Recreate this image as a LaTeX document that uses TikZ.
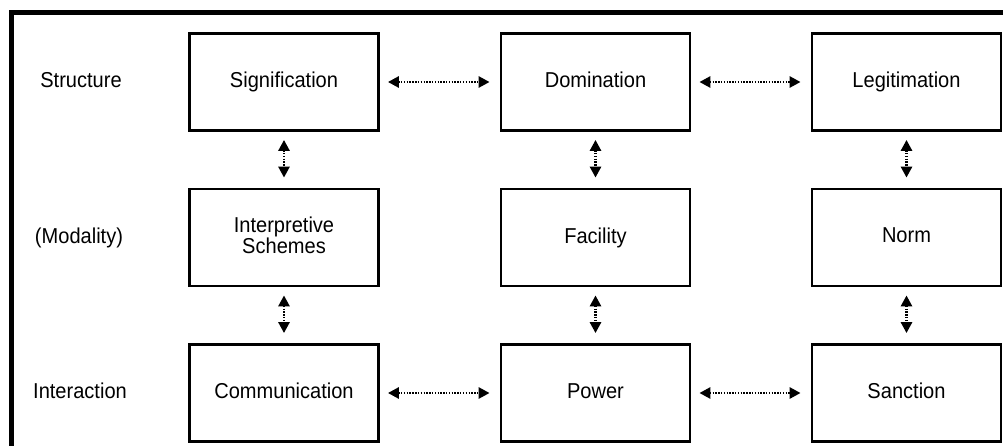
\documentclass[tikz,border=0pt]{standalone}
\usepackage{fontspec}
\setmainfont{Liberation Sans}[FakeStretch=0.93]
\usetikzlibrary{arrows.meta}

\newcommand{\boxfont}{\fontsize{18.4}{17.4}\selectfont}

\begin{document}
\begin{tikzpicture}[
    x=0.03cm, y=-0.03cm,
    box_style/.style={rectangle, draw, line width=2.1pt, minimum width=5.68cm, minimum height=2.92cm, inner sep=0pt, align=center, font=\boxfont, execute at begin node=\vphantom{Ag}},
    row_label_style/.style={font=\boxfont, execute at begin node=\vphantom{Ag}},
    link_style/.style={dash pattern=on 1.2pt off 1.2pt, line width=2.3pt, shorten <=2.4mm, shorten >=3mm, {Triangle[length=3.3mm,width=3.3mm]}-{Triangle[length=3.3mm,width=3.3mm]}}
]
\useasboundingbox (0,0) rectangle (1003,446);

% Outer frame (cut at right and bottom)
\draw[line width=5pt] (1010,12.5) -- (11.5,12.5) -- (11.5,460);

% Row labels
\node[row_label_style] (structure) at (81,82) {Structure};
\node[row_label_style] (modality) at (79,237.5) {(Modality)};
\node[row_label_style] (interaction) at (80,393) {Interaction};

% Structure row
\node[box_style] (sig) at (284,82) {Signification};
\node[box_style] (dom) at (595.5,82) {Domination};
\node[box_style] (leg) at (906.5,82) {Legitimation};

% Modality row
\node[box_style] (isc) at (284,237.5) {Interpretive\\Schemes};
\node[box_style] (fac) at (595.5,237.5) {Facility};
\node[box_style] (nrm) at (906.5,237.5) {Norm};

% Interaction row
\node[box_style] (com) at (284,393) {Communication};
\node[box_style] (pow) at (595.5,393) {Power};
\node[box_style] (san) at (906.5,393) {Sanction};

% Two-way links
\foreach \u/\v in {sig/dom,dom/leg,com/pow,pow/san}
    \draw[link_style] (\u.east) -- (\v.west);
\foreach \u/\v in {sig/isc,isc/com,dom/fac,fac/pow,leg/nrm,nrm/san}
    \draw[link_style] (\u.south) -- (\v.north);

\end{tikzpicture}
\end{document}
